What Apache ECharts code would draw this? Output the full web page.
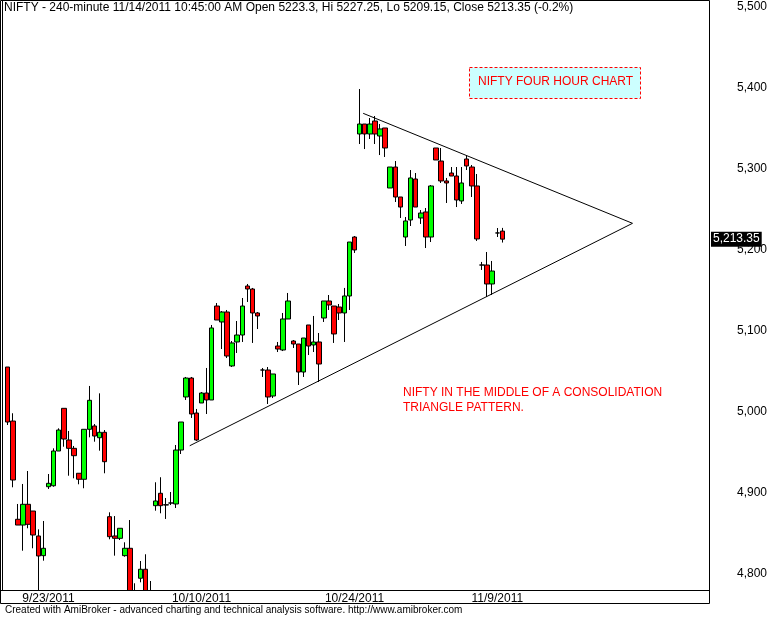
<!DOCTYPE html>
<html><head><meta charset="utf-8">
<script src="https://cdn.jsdelivr.net/npm/echarts@6/dist/echarts.min.js"></script>
<style>html,body{margin:0;padding:0;background:#fff}#c{width:770px;height:618px}</style>
</head><body><div id="c"></div>
<script>
const opens=[5055.5,4988.8,4867.5,4860.4,4886.0,4877.7,4846.9,4822.6,4907.7,4908.9,4951.8,5004.5,4965.4,4955.1,4924.3,4916.9,4978.6,4982.7,4968.2,4974.9,4870.7,4846.9,4844.0,4822.6,4831.7,4775,4794.7,4805.8,4770,4884.3,4899.6,4885.5,4887.6,4886.4,4953.0,5018.5,5041.9,4998.7,5011.1,5023.4,5014.8,5130.8,5111.1,5123.4,5056.8,5086.4,5095.0,5155.5,5151.8,5122.2,5051.8,5051.8,5019.7,5081.4,5076.5,5114.8,5087.6,5083.9,5049.3,5107.4,5082.7,5086.4,5116.0,5137.0,5130.8,5129.6,5122.2,5143.2,5216.0,5343.2,5355.5,5343.2,5359.2,5340.7,5350.6,5276.5,5302.4,5265.4,5216.0,5237.0,5287.6,5239.5,5246.9,5216.0,5325.9,5309.8,5285.2,5295.0,5291.3,5260.5,5312.3,5302.4,5279.0,5181.4,5181.4,5158.0,5221.0,5223.3];
const closes=[4987.6,4916.0,4860.4,4886.0,4861.3,4848.1,4822.2,4831.7,4911.9,4951.8,4977.7,4966.6,4955.1,4946.0,4916.9,4978.6,5014.4,4970.3,4974.9,4938.6,4846.0,4844.0,4856.4,4831.7,4760,4770,4805.8,4760,4775,4890.1,4884.3,4885.1,4887.6,4953.0,4987.6,5041.9,4997.5,4965.4,5023.4,5014.8,5103.7,5113.5,5123.4,5069.1,5085.2,5095.0,5130.8,5151.8,5122.2,5118.5,5051.8,5018.5,5046.9,5077.7,5114.8,5137.0,5083.9,5049.3,5091.3,5081.4,5086.4,5059.2,5137.0,5132.1,5096.3,5122.2,5143.2,5209.8,5200.0,5355.5,5343.2,5355.5,5343.2,5349.4,5325.9,5302.4,5265.4,5253.0,5235.8,5288.9,5253.0,5245.6,5216.0,5279.0,5311.1,5285.2,5282.7,5291.3,5261.7,5282.7,5303.7,5279.0,5213.6,5181.4,5158.0,5174.0,5221.0,5213.35];
const lows=[4983.9,4907.0,4860.4,4828.7,4856.4,4831.7,4770,4816.4,4904.9,4907.7,4951.8,4957.1,4921.3,4918.1,4910.7,4905.8,4968.7,4963.3,4952.2,4924.3,4842.8,4822.6,4841.9,4821.3,4750,4760,4789.7,4750,4755,4878.1,4874.9,4867.9,4885.1,4881.4,4948.1,5014.8,4992.6,4964.2,5011.1,4997.5,5014.8,5113.5,5077.7,5066.6,5055.5,5072.8,5086.4,5135.8,5085.2,5102.4,5043.2,5009.8,5017.2,5074.0,5075.2,5114.8,5079.0,5033.3,5043.2,5070.3,5074.0,5037.0,5111.1,5125.9,5085.2,5113.5,5086.4,5125.9,5196.3,5330.8,5324.6,5337.0,5330.8,5317.2,5314.8,5276.5,5259.2,5239.5,5204.9,5229.6,5253.0,5232.1,5202.4,5209.8,5311.1,5282.7,5258.0,5291.3,5253.0,5256.8,5298.7,5265.4,5211.1,5175.3,5141.9,5144.4,5216.0,5209.15];
const highs=[5055.5,4998.4,4886.4,4911.1,4927.1,4877.7,4855.1,4865.4,4923.4,4955.1,4979.8,5004.5,4976.5,4958.0,4924.3,4978.6,5032.1,4985.1,5023.0,4977.7,4876.1,4871.5,4856.4,4839.1,4866.6,4788.5,4816.0,4824.3,4791.3,4913.2,4919.4,4893.8,4901.2,4959.2,4987.6,5043.2,5043.2,5003.7,5024.6,5054.3,5107.4,5134.5,5124.6,5125.9,5087.6,5112.3,5140.7,5158.0,5153.1,5123.4,5054.3,5055.5,5046.9,5086.4,5122.2,5146.9,5088.8,5083.9,5091.3,5107.4,5118.5,5097.5,5137.0,5144.4,5130.8,5133.3,5153.1,5209.8,5217.2,5398.7,5355.5,5362.9,5365.4,5355.5,5350.6,5302.4,5309.8,5265.4,5240.7,5298.7,5295.0,5249.3,5251.8,5280.2,5325.9,5325.9,5288.9,5302.4,5302.4,5302.4,5316.0,5304.9,5293.8,5185.2,5197.5,5186.4,5227.1,5227.25];
const tickIndex=[9,39,69,97];
const tickLabels=['9/23/2011','10/10/2011','10/24/2011','11/9/2011'];
const priceTicks=[4800,4900,5000,5100,5200,5300,5400,5500];
const upperLine=[[70.7,5368.7],[123.5,5232.9]];
const lowerLine=[[36.7,4958.3],[123.5,5232.9]];
const lastClose=5213.35;

const N=139, OFF=1;
const cats=[]; for(let i=0;i<N;i++){const t=tickIndex.indexOf(i);cats.push(t>=0?tickLabels[t]:'');}
const data=[]; for(let i=0;i<N;i++){const k=i-OFF; data.push(k>=0&&k<opens.length?[opens[k],closes[k],lows[k],highs[k]]:'-');}
const fmt=v=>v.toLocaleString('en-US');
const F='"Liberation Sans", Arial, sans-serif';
const chart=echarts.init(document.getElementById('c'));
chart.setOption({
 animation:false,
 grid:{left:-2,right:61,top:0,bottom:28,show:false},
 xAxis:[{type:'category',data:cats,boundaryGap:true,z:20,axisTick:{show:false},axisLine:{show:false},
   axisLabel:{interval:(i,v)=>v!=='',margin:3,fontSize:12,fontFamily:F,color:'#000'},splitLine:{show:false}},
  {type:'value',min:-0.5,max:N-0.5,show:false}],
 yAxis:{type:'value',position:'right',min:4780.2,max:5508.6,axisLine:{show:true,lineStyle:{color:'#000'}},axisTick:{show:false},splitLine:{show:false},
   axisLabel:{customValues:priceTicks,formatter:v=>fmt(v),align:'right',margin:58,fontSize:12,fontFamily:F,color:'#000'}},
 series:[
  {type:'candlestick',data:data,barWidth:5,clip:false,
   itemStyle:{color:'#00ff00',color0:'#ff0000',borderColor:'#000',borderColor0:'#000',borderWidth:1}},
  {type:'line',xAxisIndex:1,data:upperLine,symbol:'none',lineStyle:{color:'#000',width:1},silent:true},
  {type:'line',xAxisIndex:1,data:lowerLine,symbol:'none',lineStyle:{color:'#000',width:1},silent:true,
   markLine:{silent:true,symbol:'none',data:[{yAxis:lastClose}],lineStyle:{color:'rgba(0,0,0,0)',width:1},
    label:{show:true,position:'end',distance:2,formatter:'5,213.35',color:'#fff',backgroundColor:'#000',padding:[2,2,1,2],fontSize:12,fontFamily:F}}}
 ],
 graphic:[
  {type:'rect',z:5,shape:{x:1,y:590.5,width:708,height:27.5},style:{fill:'#fff'},silent:true},
  {type:'line',z:6,shape:{x1:0,y1:590.5,x2:709.5,y2:590.5},style:{stroke:'#000',lineWidth:1},silent:true},
  {type:'rect',z:6,shape:{x:0.5,y:0.5,width:709,height:603},style:{fill:null,stroke:'#000',lineWidth:1},silent:true},
  {type:'text',left:4,top:2,style:{text:'NIFTY - 240-minute 11/14/2011 10:45:00 AM Open 5223.3, Hi 5227.25, Lo 5209.15, Close 5213.35 (-0.2%)',font:'12px '+F,fill:'#000'}},
  {type:'rect',shape:{x:469.5,y:67.5,width:171,height:31},style:{fill:'#ccffff',stroke:'#ff0000',lineDash:[3,2],lineWidth:1}},
  {type:'text',left:478,top:76,style:{text:'NIFTY FOUR HOUR CHART',font:'12px '+F,fill:'#ff0000'}},
  {type:'text',left:403,top:385,style:{text:'NIFTY IN THE MIDDLE OF A CONSOLIDATION\nTRIANGLE PATTERN.',font:'12px '+F,fill:'#ff0000',lineHeight:15}},
  {type:'text',z:7,left:5,top:605,style:{text:'Created with AmiBroker - advanced charting and technical analysis software. http://www.amibroker.com',font:'10px '+F,fill:'#000'}}
 ]
});
</script></body></html>
